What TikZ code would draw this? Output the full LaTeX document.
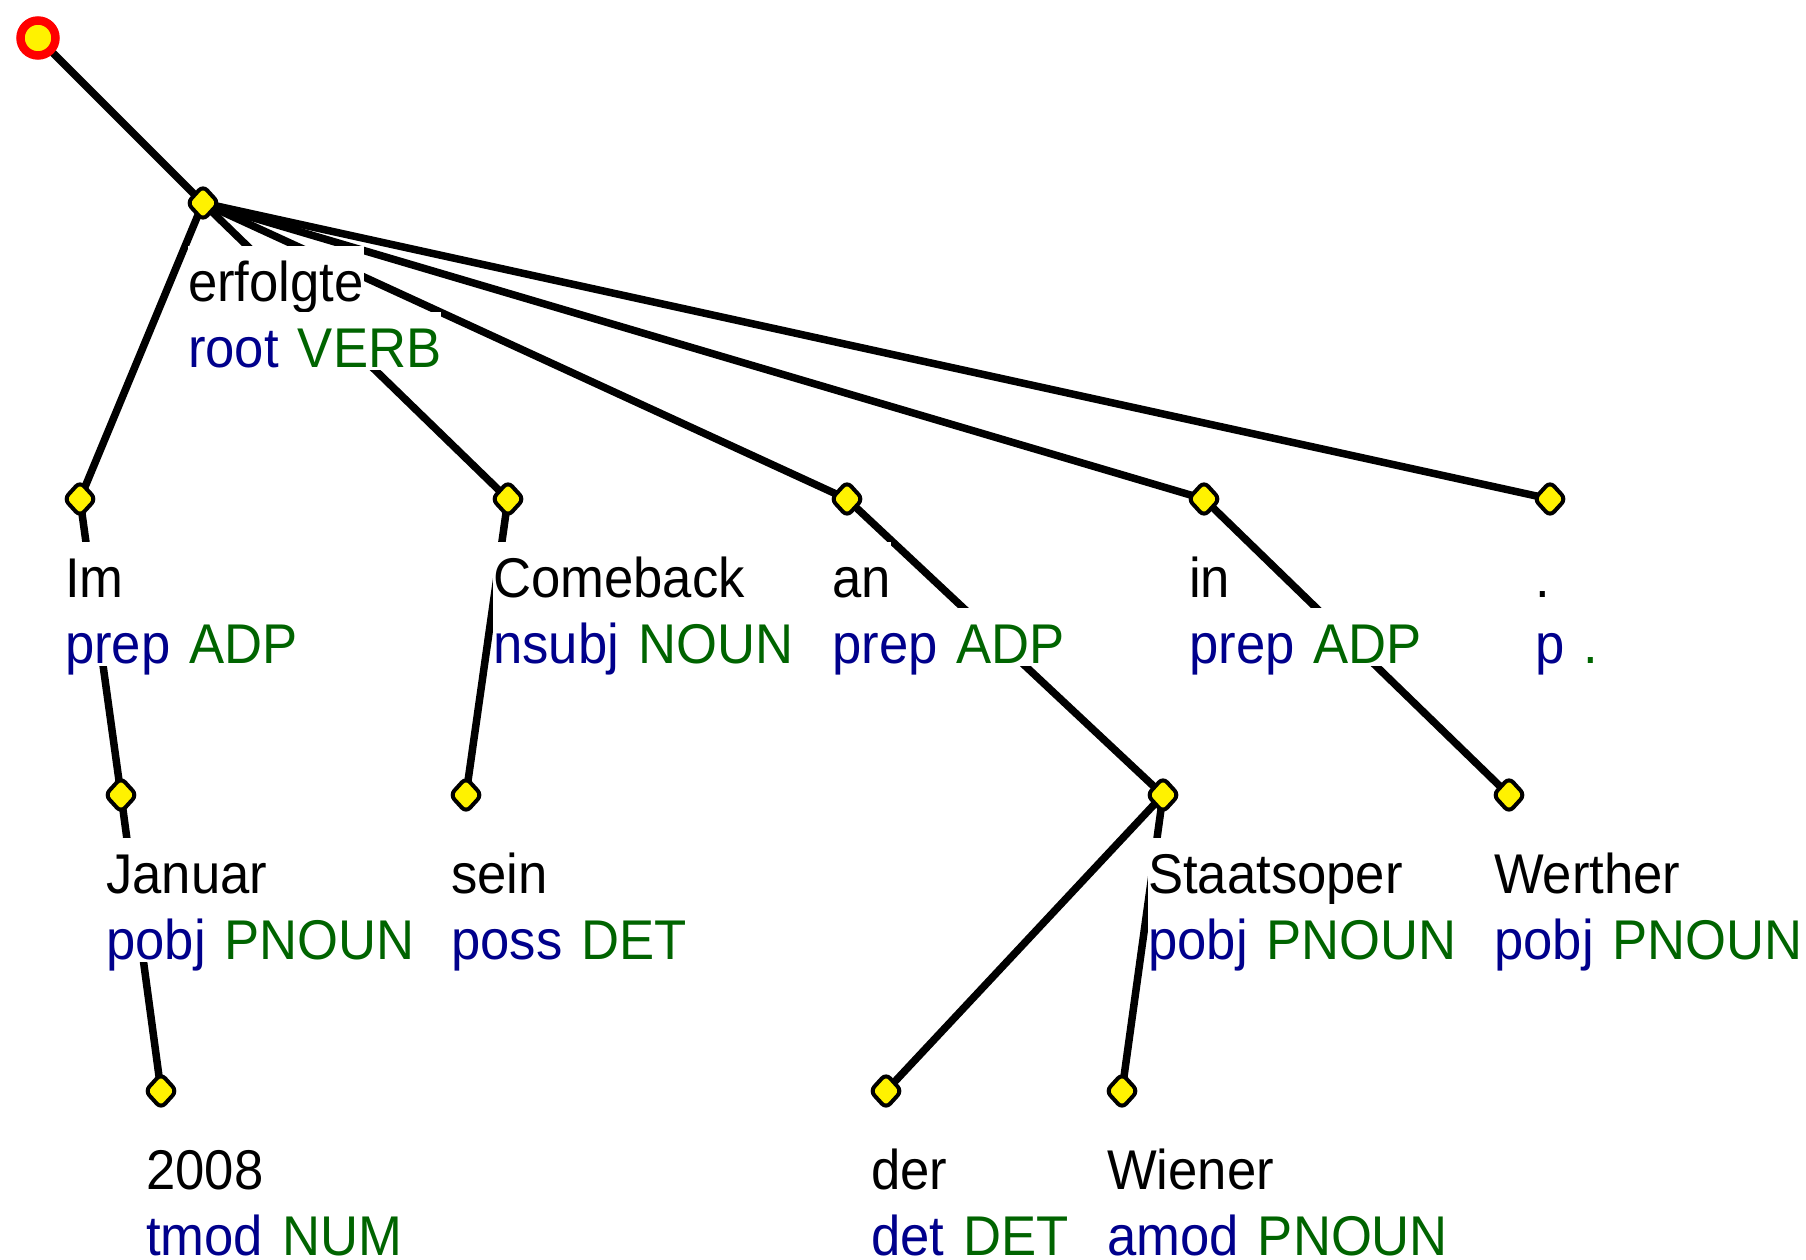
\documentclass[tikz,border=0pt]{standalone}
\usepackage{fontspec}
\setmainfont{Liberation Sans}[FakeStretch=0.94]
\usetikzlibrary{shapes.geometric,backgrounds}
\definecolor{relblue}{RGB}{0,0,140}
\definecolor{posgreen}{RGB}{0,100,0}
\newcommand\deptoken[6]{%
  \node[tokdot] (#1) at (#2,#3) {};
  \node[lbl,text depth=12pt] (#1-w) at (#2-15,#3+98) {#4};
  \node[lbl,text depth=3pt] (#1-t) at (#2-15,#3+164) {\color{relblue}#5\hskip 19pt\color{posgreen}#6};
}
\begin{document}
\begin{tikzpicture}[x=1pt,y=-1pt,
  edge/.style={line width=7.5pt,black},
  tokdot/.style={diamond,draw=black,fill=yellow,line width=4pt,minimum width=33pt,minimum height=36pt,inner sep=0pt,rounded corners=6pt},
  rootdot/.style={circle,draw=red,fill=yellow,line width=8.5pt,minimum size=35pt,inner sep=0pt},
  lbl/.style={anchor=base west,fill=white,inner sep=0pt,text height=55pt,font=\fontsize{56}{60}\selectfont},
]
\useasboundingbox (0,0) rectangle (1806,1260);
\node[rootdot] (root) at (38,38) {};
\deptoken{erf}{203}{203}{erfolgte}{root}{VERB}
\deptoken{im}{80}{499}{Im}{prep}{ADP}
\deptoken{come}{508}{499}{Comeback}{nsubj}{NOUN}
\deptoken{an}{847}{499}{an}{prep}{ADP}
\deptoken{in}{1204}{499}{in}{prep}{ADP}
\deptoken{pt}{1550}{499}{.}{p}{.}
\deptoken{jan}{121}{795}{Januar}{pobj}{PNOUN}
\deptoken{sein}{466}{795}{sein}{poss}{DET}
\deptoken{staats}{1163}{795}{Staatsoper}{pobj}{PNOUN}
\deptoken{werther}{1509}{795}{Werther}{pobj}{PNOUN}
\deptoken{yr}{161}{1091}{2008}{tmod}{NUM}
\deptoken{der}{886}{1091}{der}{det}{DET}
\deptoken{wiener}{1122}{1091}{Wiener}{amod}{PNOUN}
\begin{scope}[on background layer]
  \fill[white] (0,0) rectangle (1806,1260);
  \draw[edge] (root.center) -- (erf.center);
  \draw[edge] (erf.center) -- (im.center);
  \draw[edge] (erf.center) -- (come.center);
  \draw[edge] (erf.center) -- (an.center);
  \draw[edge] (erf.center) -- (in.center);
  \draw[edge] (erf.center) -- (pt.center);
  \draw[edge] (im.center) -- (jan.center);
  \draw[edge] (jan.center) -- (yr.center);
  \draw[edge] (come.center) -- (sein.center);
  \draw[edge] (an.center) -- (staats.center);
  \draw[edge] (staats.center) -- (der.center);
  \draw[edge] (staats.center) -- (wiener.center);
  \draw[edge] (in.center) -- (werther.center);
\end{scope}
\end{tikzpicture}
\end{document}
